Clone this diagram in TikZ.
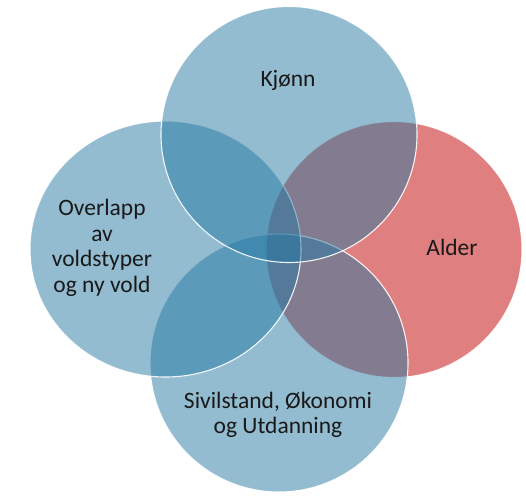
\documentclass[tikz,border=0pt]{standalone}
\usepackage{fontspec}
\setmainfont{Carlito}
\definecolor{vennblue}{RGB}{39,121,163}
\definecolor{vennred}{RGB}{192,0,0}
\begin{document}
\begin{tikzpicture}[
    x=1pt, y=-1pt,
    blob/.style={fill opacity=0.5, draw=white, draw opacity=0.9, line width=1.1pt},
    lbl/.style={align=center, font=\fontsize{23.5}{25.5}\selectfont, text=black!90, inner sep=0pt}
    ]
  \useasboundingbox (0,0) rectangle (526,495);
  \path[blob, fill=vennred] (394,249.5) circle [radius=128pt];
  \path[blob, fill=vennblue] (279,363) circle [radius=129pt];
  \path[blob, fill=vennblue] (165.5,249) ellipse [x radius=135.5pt, y radius=128pt];
  \path[blob, fill=vennblue] (289,134.5) circle [radius=128pt];
  \node[lbl] (kjonn) at (288,80) {Kjønn};
  \node[lbl] (overlapp) at (102,248) {Overlapp\\av\\voldstyper\\og ny vold};
  \node[lbl] (alder) at (452,247) {Alder};
  \node[lbl] (sivilstand) at (278,415) {Sivilstand, Økonomi\\og Utdanning};
\end{tikzpicture}
\end{document}
